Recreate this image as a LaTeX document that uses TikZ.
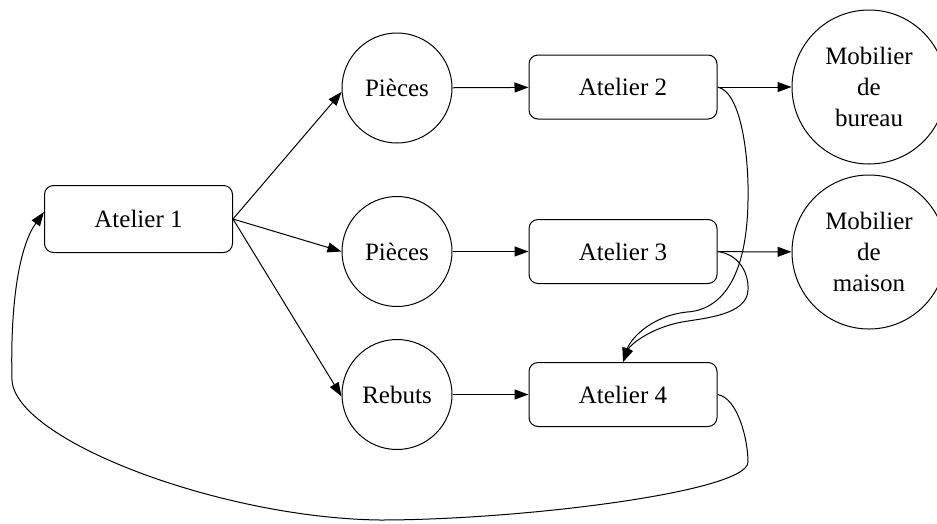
\documentclass[tikz,border=0pt]{standalone}
\usepackage{fontspec}
\setmainfont{Liberation Serif}
\usetikzlibrary{arrows.meta}
\begin{document}
\begin{tikzpicture}[x=1pt,y=-1pt,
  every node/.style={font=\fontsize{25}{31}\selectfont},
  box/.style={draw,line width=1pt,rounded corners=9pt,minimum width=188pt,minimum height=64pt,inner sep=0pt},
  ball/.style={draw,line width=1pt,circle,minimum size=110pt,inner sep=0pt},
  bigball/.style={draw,line width=1pt,circle,minimum size=154pt,inner sep=0pt,align=center},
  link/.style={line width=1pt,-{Triangle[length=14pt,width=10pt]}}]
\useasboundingbox (0,0) rectangle (937,523);
\clip (0,0) rectangle (937,523);
\node[box,minimum height=67pt] (a1) at (138.5,219) {Atelier 1};
\node[ball] (p1) at (397,88) {Pièces};
\node[ball] (p2) at (397,251.5) {Pièces};
\node[ball] (r) at (397,394.5) {Rebuts};
\node[box] (a2) at (623,87) {Atelier 2};
\node[box] (a3) at (623,251.5) {Atelier 3};
\node[box] (a4) at (623,394.5) {Atelier 4};
\node[bigball] (m1) at (869,87) {Mobilier\\de\\bureau};
\node[bigball] (m2) at (869,252) {Mobilier\\de\\maison};
\coordinate (k1) at (748,200);
\coordinate (k2) at (687,312);
\coordinate (k3) at (748,290);
\coordinate (k4) at (682,322);
\coordinate (k5) at (748,462);
\coordinate (k6) at (380,520);
\coordinate (k7) at (12,380);
\draw[link] (a1.east) -- (p1.184);
\draw[link] (a1.east) -- (p2.west);
\draw[link] (a1.east) -- (r.182);
\draw[link] (p1) -- (a2);
\draw[link] (p2) -- (a3);
\draw[link] (r) -- (a4);
\draw[link] (a2) -- (m1);
\draw[link] (a3) -- (m2);
\draw[link] (a2.east) .. controls (742,92) and (749,160) .. (k1)
  .. controls (747,280) and (720,310) .. (k2)
  .. controls (650,316) and (630,340) .. (a4.north);
\draw[link] (a3.east) .. controls (738,254) and (749,272) .. (k3)
  .. controls (747,315) and (705,318) .. (k4)
  .. controls (650,328) and (630,345) .. (a4.north);
\draw[link] (a4.east) .. controls (738,398) and (748,440) .. (k5)
  .. controls (748,492) and (520,520) .. (k6)
  .. controls (220,518) and (15,440) .. (k7)
  .. controls (10,300) and (20,245) .. ([yshift=7pt]a1.west);
\end{tikzpicture}
\end{document}
